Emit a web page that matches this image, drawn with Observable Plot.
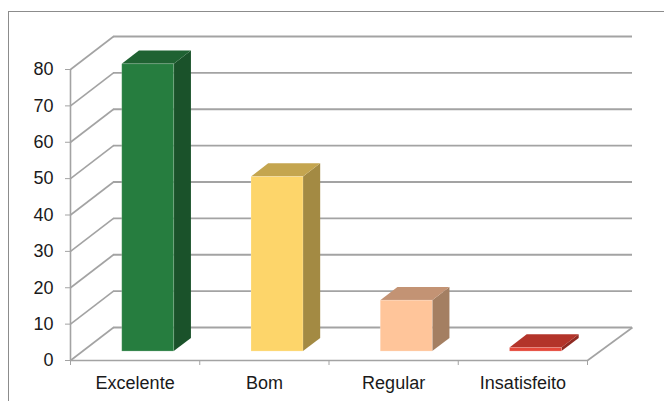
<!DOCTYPE html>
<html>
<head>
<meta charset="utf-8">
<script src="https://cdn.jsdelivr.net/npm/d3@7"></script>
<script src="https://cdn.jsdelivr.net/npm/@observablehq/plot@0.6"></script>
<style>
  html, body { margin: 0; padding: 0; background: #fff; width: 664px; height: 401px; overflow: hidden; }
  #frame { position: absolute; left: 8px; top: 11px; width: 700px; height: 450px;
           border-left: 1px solid #8c8c8c; border-top: 1px solid #8c8c8c; }
  #chart { position: absolute; left: 0; top: 0; }
</style>
</head>
<body>
<div id="frame"></div>
<div id="chart"></div>
<script>
// ---- data ----
const categories = ["Excelente", "Bom", "Regular", "Insatisfeito"];
const values = [79, 48, 14, 1];
const yTicks = [0, 10, 20, 30, 40, 50, 60, 70, 80];
const frontColors = ["#267d3f", "#fdd56a", "#ffc59a", "#e5483a"];
const sideColors  = ["#1a522a", "#a38a43", "#a47f62", "#8f2a22"];
const topColors   = ["#1f6232", "#c4a54f", "#c39374", "#b3342a"];

// ---- layout / projection (pixels) ----
const W = 664, H = 401;
const mL = 70, mR = 77, mT = 69, mB = 41;
const pxPerX = (W - mL - mR) / categories.length;   // px per category unit
const pxPerY = (H - mT - mB) / 80;                   // px per value unit
const depthPx = [43, 33];                            // wall depth offset (right, up)
const UX = depthPx[0] / pxPerX, UY = depthPx[1] / pxPerY;
const backExtra = 2 / pxPerX;
const d0 = 0.27, dBar = 0.4, barW = 52 / pxPerX, barShift = 1.5 / pxPerX;

const frontFaces = [], sideFaces = [], topFaces = [];
categories.forEach((c, i) => {
  const v = values[i];
  const xl = i + 0.5 - barW / 2 + d0 * UX + barShift, xr = xl + barW;
  const yb = d0 * UY, yt = v + d0 * UY;
  const ox = dBar * UX, oy = dBar * UY;
  frontFaces.push({cat: c, x1: xl, x2: xr, y1: yb, y2: yt, fill: frontColors[i]});
  sideFaces.push({cat: c, x: xr, y1: yb, y2: yt, fill: sideColors[i]});
  sideFaces.push({cat: c, x: xr + ox, y1: yb + oy, y2: yt + oy, fill: sideColors[i]});
  topFaces.push({cat: c, y: yt, x1: xl, x2: xr, fill: topColors[i]});
  topFaces.push({cat: c, y: yt + oy, x1: xl + ox, x2: xr + ox, fill: topColors[i]});
});

const grid = "#a3a3a3";
const n = categories.length;

const chart = Plot.plot({
  width: W, height: H,
  marginLeft: mL, marginRight: mR, marginTop: mT, marginBottom: mB,
  x: {domain: [0, n]},
  y: {domain: [0, 80]},
  color: {type: "identity"},
  style: {fontFamily: "'Liberation Sans', Arial, sans-serif", fontSize: "18px", color: "#1a1a1a", background: "transparent", overflow: "visible"},
  marks: [
    // back wall gridlines
    Plot.ruleY(yTicks, {y: t => t + UY, x1: UX, x2: n + UX + backExtra, stroke: grid, strokeWidth: 1.8}),
    // side wall diagonals
    Plot.link(yTicks, {x1: 0, y1: t => t, x2: UX, y2: t => t + UY, stroke: grid, strokeWidth: 1.6}),
    // floor right edge
    Plot.link([0], {x1: n, y1: 0, x2: n + UX + backExtra, y2: UY, stroke: grid, strokeWidth: 1.6}),
    // front axes lines
    Plot.ruleX([0], {y1: 0, y2: 80, stroke: grid, strokeWidth: 1.6}),
    Plot.ruleY([0], {x1: 0, x2: n, stroke: grid, strokeWidth: 1.6}),
    // bars
    Plot.areaY(sideFaces, {x: "x", y1: "y1", y2: "y2", z: "cat", fill: "fill"}),
    Plot.areaX(topFaces, {y: "y", x1: "x1", x2: "x2", z: "cat", fill: "fill"}),
    Plot.rect(frontFaces, {x1: "x1", x2: "x2", y1: "y1", y2: "y2", fill: "fill", stroke: "#ffffff", strokeOpacity: 0.25, strokeWidth: 0.8}),
    // axes
    Plot.axisY({ticks: yTicks, tickSize: 5, tickPadding: 12, stroke: grid, fill: "#1a1a1a", fontSize: 18}),
    Plot.axisX({ticks: d3.range(n + 1), tickFormat: () => "", tickSize: 5, stroke: grid}),
    Plot.axisX({ticks: categories.map((c, i) => i + 0.5), tickFormat: t => categories[Math.floor(t)],
                tickSize: 0, tickPadding: 16, fill: "#1a1a1a", fontSize: 18})
  ]
});
document.getElementById("chart").appendChild(chart);
</script>
</body>
</html>
